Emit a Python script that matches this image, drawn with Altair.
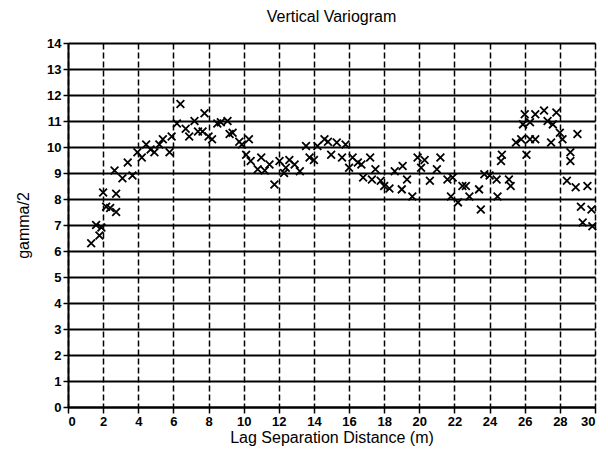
import altair as alt
import pandas as pd

lag = [1.32, 1.6, 1.79, 1.9, 2.0, 2.17, 2.4, 2.74, 2.74, 2.65, 3.1, 3.4, 3.67, 3.95, 4.2,
       4.45, 4.7, 4.92, 5.2, 5.4, 5.78, 5.9, 6.2, 6.4, 6.7, 6.9, 7.2, 7.4, 7.66, 7.77,
       8.0, 8.2, 8.5, 8.7, 9.08, 9.2, 9.37, 9.75, 9.9, 10.14, 10.3, 10.4, 10.8, 11.0, 11.2,
       11.47, 11.75, 12.04, 12.3, 12.4, 12.6, 12.9, 13.2, 13.55, 13.75, 14.0, 14.2, 14.6, 14.8, 14.98,
       15.3, 15.6, 15.8, 16.0, 16.2, 16.5, 16.7, 16.8, 17.2, 17.3, 17.5, 17.8, 18.0, 18.3, 18.6,
       19.0, 19.05, 19.3, 19.6, 19.9, 20.1, 20.3, 20.6, 21.0, 21.2, 21.6, 21.8, 21.9, 22.2, 22.45,
       22.65, 22.85, 23.4, 23.5, 23.7, 24.0, 24.4, 24.45, 24.65, 24.7, 25.1, 25.2, 25.5, 25.8, 25.9,
       26.0, 26.1, 26.3, 26.3, 26.6, 26.6, 27.1, 27.3, 27.5, 27.6, 27.8, 28.0, 28.15, 28.4, 28.6,
       28.6, 28.9, 29.0, 29.2, 29.3, 29.57, 29.8, 29.85]
gamma = [6.3, 7.0, 6.6, 6.9, 8.25, 7.7, 7.65, 7.5, 8.2, 9.1, 8.8, 9.4, 8.9, 9.8, 9.6,
         10.1, 9.9, 9.8, 10.1, 10.3, 9.8, 10.4, 10.9, 11.65, 10.7, 10.4, 11.0, 10.6, 10.6, 11.3,
         10.4, 10.3, 10.9, 10.95, 11.0, 10.5, 10.55, 10.2, 10.1, 9.7, 10.3, 9.46, 9.14, 9.6, 9.1,
         9.33, 8.56, 9.46, 9.0, 9.2, 9.5, 9.33, 9.07, 10.04, 9.6, 9.5, 10.04, 10.3, 10.2, 9.7,
         10.17, 9.6, 10.1, 9.2, 9.6, 9.4, 9.33, 8.83, 9.6, 8.75, 9.14, 8.7, 8.5, 8.4, 9.07,
         8.37, 9.27, 8.75, 8.1, 9.6, 9.2, 9.5, 8.7, 9.14, 9.6, 8.75, 8.1, 8.83, 7.87, 8.5,
         8.5, 8.1, 8.37, 7.6, 8.95, 8.9, 8.75, 8.1, 9.46, 9.7, 8.75, 8.5, 10.17, 10.3, 10.87,
         11.26, 9.7, 10.3, 10.95, 10.3, 11.26, 11.4, 11.0, 10.17, 10.87, 11.33, 10.55, 10.3, 8.7, 9.8,
         9.46, 8.45, 10.5, 7.7, 7.1, 8.5, 7.6, 6.95]

x_ticks = list(range(0, 31, 2))
y_ticks = list(range(0, 15))

df = pd.DataFrame({"lag": lag, "gamma": gamma})

font = "Liberation Sans"

chart = alt.Chart(df).mark_point(
    shape="M-1,-1L1,1M-1,1L1,-1",
    filled=False,
    stroke="black",
    strokeWidth=1.8,
    size=60,
    opacity=1,
).encode(
    x=alt.X("lag:Q", scale=alt.Scale(domain=[0, 30], nice=False),
            axis=alt.Axis(values=x_ticks, title="Lag Separation Distance (m)",
                          grid=True, gridColor="black", gridDash=[6, 3], gridWidth=1.5,
                          gridOpacity=1, domainColor="black", domainWidth=2,
                          tickColor="black", tickSize=6, tickWidth=1.5,
                          labelFont=font, labelFontSize=13, labelFontWeight="bold",
                          labelColor="black", titleFont=font, titleFontSize=16,
                          titleFontWeight="normal", titleColor="black", titlePadding=1)),
    y=alt.Y("gamma:Q", scale=alt.Scale(domain=[0, 14], nice=False),
            axis=alt.Axis(values=y_ticks, title="gamma/2",
                          grid=True, gridColor="black", gridWidth=2, gridOpacity=1,
                          domainColor="black", domainWidth=2,
                          tickColor="black", tickSize=5, tickWidth=1.5,
                          labelFont=font, labelFontSize=13, labelFontWeight="bold",
                          labelColor="black", titleFont=font, titleFontSize=16,
                          titleFontWeight="normal", titleColor="black", titlePadding=15)),
).properties(
    width=527,
    height=364,
    title=alt.TitleParams("Vertical Variogram", font=font, fontSize=16,
                          fontWeight="normal", color="black", offset=12),
    autosize=alt.AutoSizeParams(type="none"),
    padding={"left": 60, "top": 35, "right": 5, "bottom": 48},
).configure_view(stroke="black", strokeWidth=2).configure(background="white")

chart.save("out.html", embed_options={"renderer": "svg", "actions": False})
